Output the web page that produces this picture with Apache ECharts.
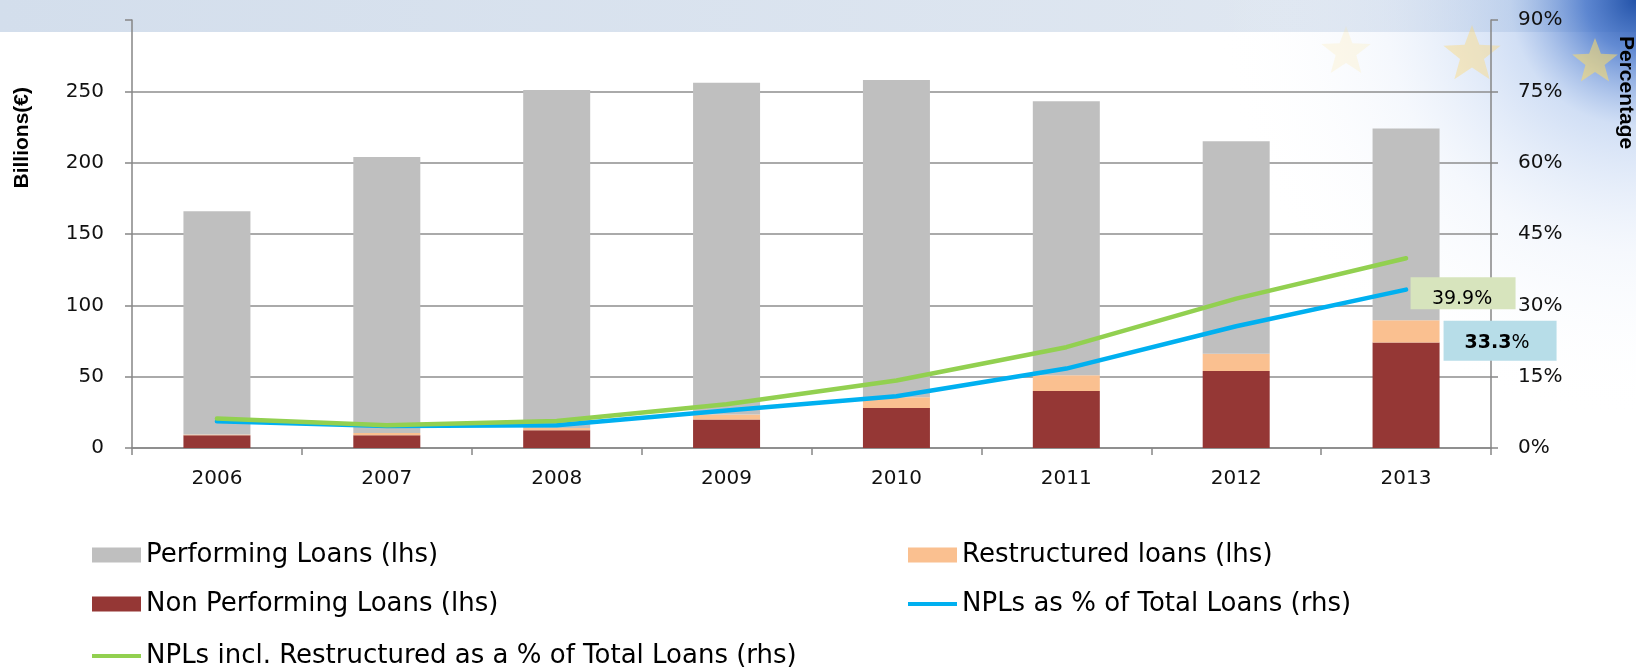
<!DOCTYPE html>
<html>
<head>
<meta charset="utf-8">
<script src="https://cdn.jsdelivr.net/npm/echarts@6/dist/echarts.min.js"></script>
<style>
  html, body { margin: 0; padding: 0; background: #fff; }
  #chart { width: 1636px; height: 669px; }
</style>
</head>
<body>
<div id="chart"></div>
<script>
// data (billions of euro / percent)
const years = ['2006', '2007', '2008', '2009', '2010', '2011', '2012', '2013'];
const nplValues = [9, 9, 12.5, 20, 28, 40, 54, 74];
const restructuredValues = [0.5, 1.5, 1.5, 3.5, 7.5, 11, 12, 15.5];
const performingValues = [156.5, 193.5, 237, 232.5, 222.5, 192, 149, 134.5];
const nplRatio = [5.6, 4.6, 4.8, 7.9, 10.9, 16.7, 25.6, 33.3];
const nplInclRatio = [6.2, 4.8, 5.7, 9.2, 14.2, 21.2, 31.4, 39.9];
const leftTicks = [0, 50, 100, 150, 200, 250, 300];
const rightTicks = [0, 15, 30, 45, 60, 75, 90];

const axisGray = '#868686';
const tickFont = { fontFamily: 'DejaVu Sans', fontSize: 20, color: '#111' };
const legendText = {
  fontFamily: 'DejaVu Sans', fontSize: 26, lineHeight: 26,
  padding: [8, 0, 0, 0], color: '#000'
};

// star shape for the flag decoration
function starPoints(cx, cy, r) {
  const pts = [];
  for (let i = 0; i < 10; i++) {
    const rad = i % 2 === 0 ? r : r * 0.42;
    const a = -Math.PI / 2 + i * Math.PI / 5;
    pts.push([cx + rad * Math.cos(a), cy + rad * Math.sin(a)]);
  }
  return pts;
}

// one legend entry per block so every row sits where it does in the picture
function legendItem(left, top, name, iconH) {
  return {
    left: left, top: top, orient: 'vertical', padding: 0,
    itemWidth: 49, itemHeight: iconH, icon: 'rect',
    textStyle: legendText,
    data: [name]
  };
}

const chart = echarts.init(document.getElementById('chart'));
chart.setOption({
  animation: false,
  backgroundColor: '#fff',
  graphic: [
    {
      type: 'rect', z: -10, silent: true,
      shape: { x: 0, y: 0, width: 1636, height: 32 },
      style: { fill: new echarts.graphic.LinearGradient(0, 0, 1, 0, [
        { offset: 0, color: '#d3deec' }, { offset: 1, color: '#e2e9f2' }]) }
    },
    {
      type: 'rect', z: -9, silent: true,
      shape: { x: 1000, y: 0, width: 636, height: 420 },
      style: { fill: new echarts.graphic.RadialGradient(1, 0, 1, [
        { offset: 0, color: 'rgba(25,75,165,0.95)' },
        { offset: 0.12, color: 'rgba(60,110,200,0.8)' },
        { offset: 0.3, color: 'rgba(140,175,230,0.4)' },
        { offset: 0.6, color: 'rgba(205,220,245,0.2)' },
        { offset: 1, color: 'rgba(255,255,255,0)' }]) }
    },
    { type: 'polygon', z: -8, silent: true, shape: { points: starPoints(1346, 52, 26) }, style: { fill: 'rgba(255,225,140,0.18)' } },
    { type: 'polygon', z: -8, silent: true, shape: { points: starPoints(1472, 55, 30) }, style: { fill: 'rgba(255,215,110,0.4)' } },
    { type: 'polygon', z: -8, silent: true, shape: { points: starPoints(1595, 62, 24) }, style: { fill: 'rgba(255,220,100,0.55)' } },
    {
      type: 'text', left: 12, top: 87, rotation: Math.PI / 2,
      style: { text: 'Billions(€)', font: 'bold 21px "Liberation Sans"', fill: '#000' }
    },
    {
      type: 'text', right: 0, top: 36, rotation: -Math.PI / 2,
      style: { text: 'Percentage', font: 'bold 21px "Liberation Sans"', fill: '#000' }
    }
  ],
  grid: { left: 132, top: 20, width: 1359, height: 428 },
  legend: [
    legendItem(92, 538, 'Performing Loans (lhs)', 15),
    legendItem(92, 587, 'Non Performing Loans (lhs)', 15),
    legendItem(92, 639, 'NPLs incl. Restructured as a % of Total Loans (rhs)', 4),
    legendItem(908, 538, 'Restructured loans (lhs)', 15),
    legendItem(908, 587, 'NPLs as % of Total Loans (rhs)', 4)
  ],
  xAxis: {
    type: 'category',
    data: years,
    axisLine: { lineStyle: { color: axisGray, width: 1.5 } },
    axisTick: { show: true, length: 7, lineStyle: { color: axisGray, width: 1.5 } },
    axisLabel: Object.assign({ margin: 21 }, tickFont)
  },
  yAxis: [
    {
      type: 'value',
      min: leftTicks[0], max: leftTicks[leftTicks.length - 1], interval: leftTicks[1] - leftTicks[0],
      axisLine: { show: true, lineStyle: { color: axisGray, width: 1.5 } },
      axisTick: { show: true, length: 7, lineStyle: { color: axisGray, width: 1.5 } },
      axisLabel: Object.assign({
        margin: 28,
        formatter: v => (v === leftTicks[leftTicks.length - 1] ? '' : String(v))
      }, tickFont),
      splitLine: { show: true, showMaxLine: false, lineStyle: { color: '#8e8e8e', width: 1.5 } }
    },
    {
      type: 'value',
      min: rightTicks[0], max: rightTicks[rightTicks.length - 1], interval: rightTicks[1] - rightTicks[0],
      axisLine: { show: true, lineStyle: { color: axisGray, width: 1.5 } },
      axisTick: { show: true, length: 7, lineStyle: { color: axisGray, width: 1.5 } },
      axisLabel: Object.assign({ margin: 27, formatter: '{value}%' }, tickFont),
      splitLine: { show: false }
    }
  ],
  series: [
    {
      name: 'Non Performing Loans (lhs)', type: 'bar', stack: 'loans', barWidth: 67,
      itemStyle: { color: '#953735' }, data: nplValues
    },
    {
      name: 'Restructured loans (lhs)', type: 'bar', stack: 'loans', barWidth: 67,
      itemStyle: { color: '#fac090' }, data: restructuredValues
    },
    {
      name: 'Performing Loans (lhs)', type: 'bar', stack: 'loans', barWidth: 67,
      itemStyle: { color: '#bfbfbf' }, data: performingValues
    },
    {
      name: 'NPLs as % of Total Loans (rhs)', type: 'line', yAxisIndex: 1,
      symbol: 'none', lineStyle: { color: '#00b0f0', width: 4.5, cap: 'round' },
      itemStyle: { color: '#00b0f0' },
      data: nplRatio,
      markPoint: {
        symbol: 'rect', symbolSize: [113, 40], symbolOffset: [94, 51],
        itemStyle: { color: '#b7dde8' },
        label: {
          show: true, position: 'inside', offset: [-3, 2],
          formatter: p => '{b|' + p.value.toFixed(1) + '}%',
          fontFamily: 'DejaVu Sans', fontSize: 19, color: '#000',
          rich: { b: { fontFamily: 'DejaVu Sans', fontSize: 19, fontWeight: 'bold', color: '#000' } }
        },
        data: [{ type: 'max' }]
      }
    },
    {
      name: 'NPLs incl. Restructured as a % of Total Loans (rhs)', type: 'line', yAxisIndex: 1,
      symbol: 'none', lineStyle: { color: '#92d050', width: 4.5, cap: 'round' },
      itemStyle: { color: '#92d050' },
      data: nplInclRatio,
      markPoint: {
        symbol: 'rect', symbolSize: [105, 32], symbolOffset: [57, 35],
        itemStyle: { color: '#d7e4bd' },
        label: {
          show: true, position: 'inside', offset: [-1, 6],
          formatter: p => p.value.toFixed(1) + '%',
          fontFamily: 'DejaVu Sans', fontSize: 19, color: '#000'
        },
        data: [{ type: 'max' }]
      }
    }
  ]
});
</script>
</body>
</html>
